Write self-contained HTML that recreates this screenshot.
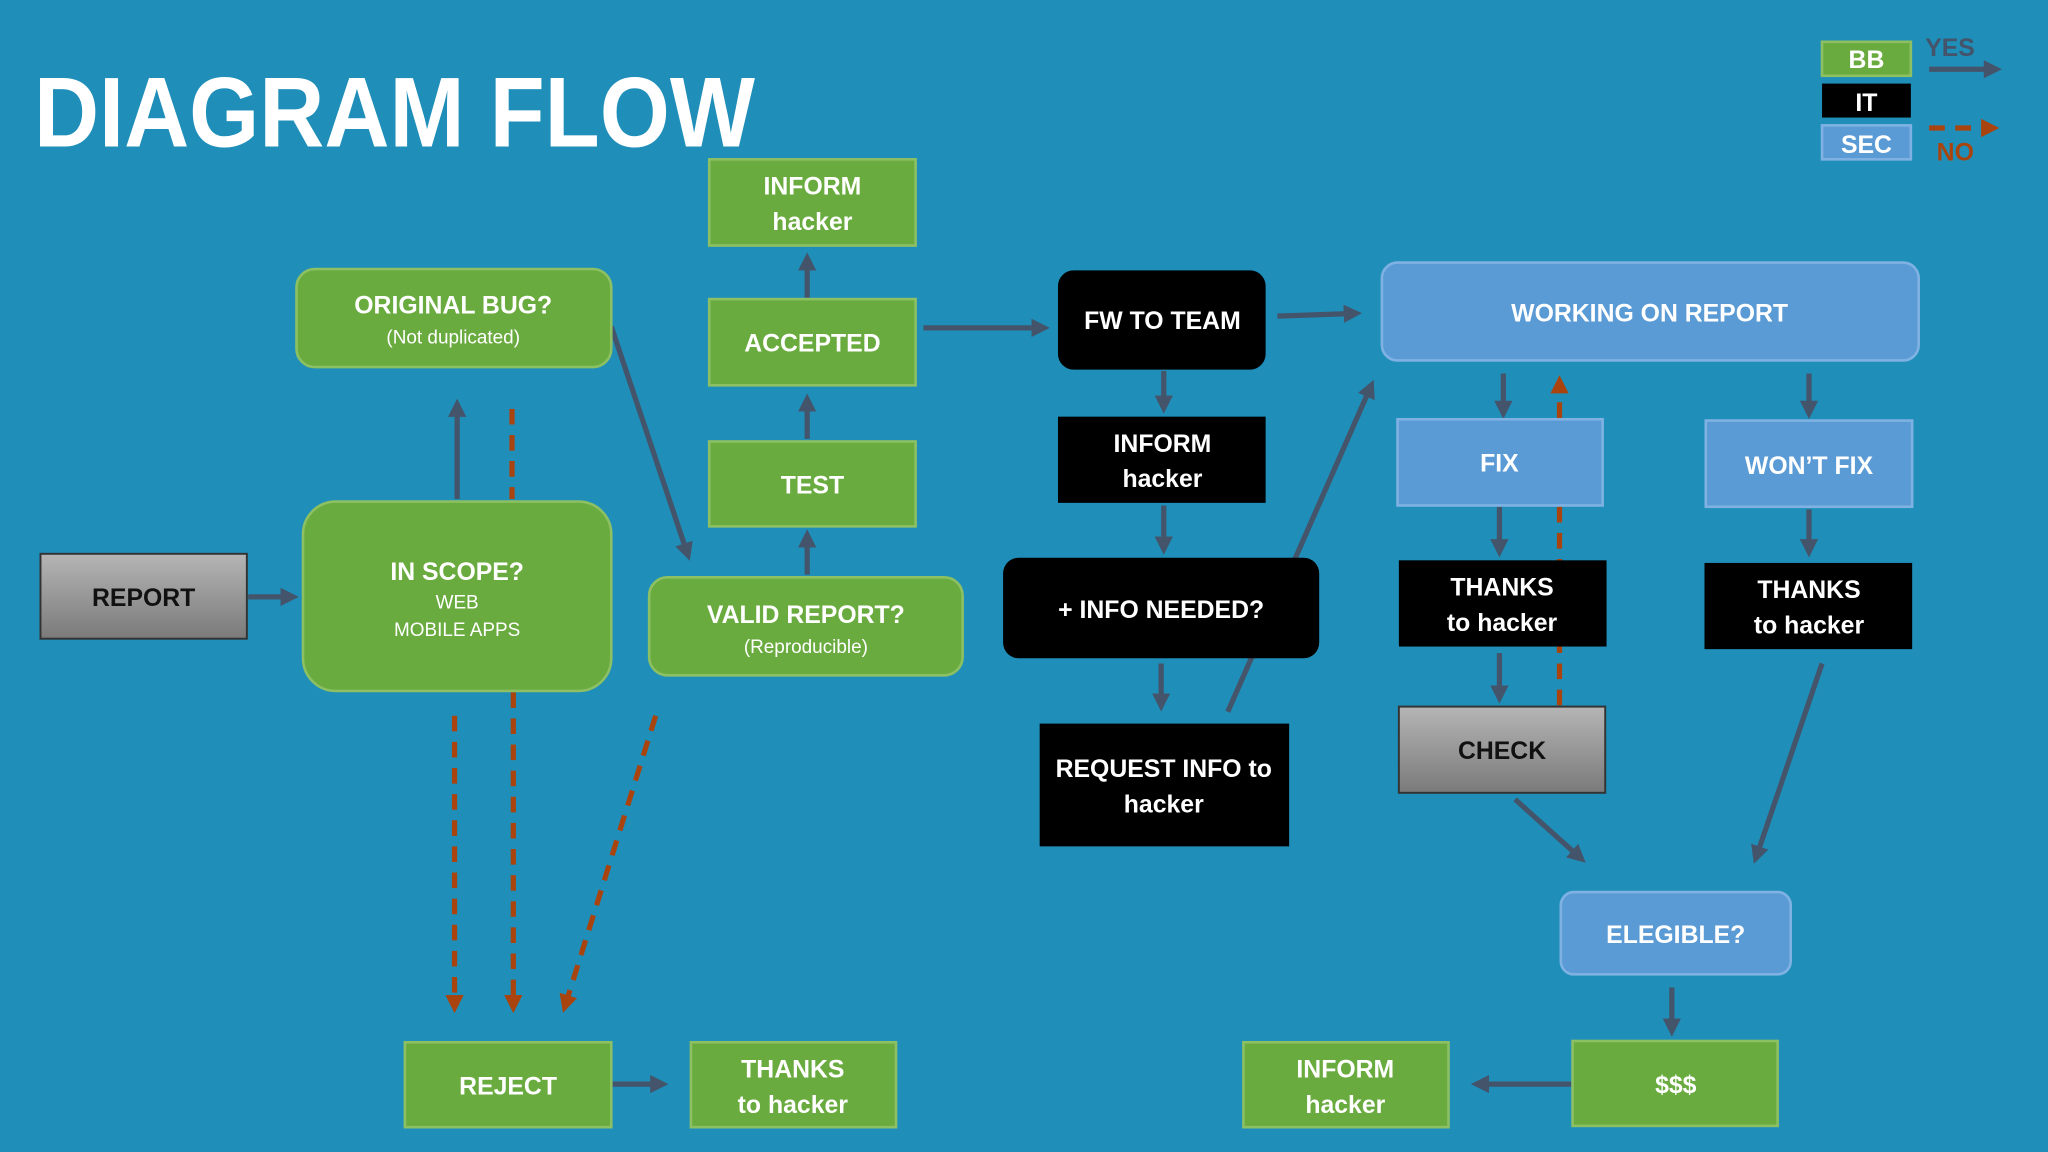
<!DOCTYPE html>
<html><head><meta charset="utf-8"><style>
html,body{margin:0;padding:0;background:#1f8fba;}
svg{display:block;}
text{font-family:"Liberation Sans",sans-serif;fill:#fff;text-anchor:middle;}
.b{font-weight:bold;font-size:19px;}
.s{font-size:14.5px;}
.g{fill:#6aab3f;stroke:#8cc063;stroke-width:2;}
.k{fill:#000;}
.u{fill:#5b9bd5;stroke:#7fb2e3;stroke-width:2;}
.y{stroke:#44546a;stroke-width:4;fill:none;}
.n{stroke:#a9440f;stroke-width:4;fill:none;stroke-dasharray:12 8;}
</style></head><body>
<svg width="2048" height="1152" viewBox="0 0 1568 882" xmlns="http://www.w3.org/2000/svg">
<defs>
<marker id="ay" markerWidth="3.5" markerHeight="3.5" refX="1.8" refY="1.75" orient="auto"><path d="M0,0 L3.5,1.75 L0,3.5z" fill="#44546a"/></marker>
<marker id="an" markerWidth="3.5" markerHeight="3.5" refX="1.8" refY="1.75" orient="auto"><path d="M0,0 L3.5,1.75 L0,3.5z" fill="#a9440f"/></marker>
<linearGradient id="gr" x1="0" y1="0" x2="0" y2="1"><stop offset="0" stop-color="#b5b5b5"/><stop offset="1" stop-color="#7a7a7a"/></linearGradient>
</defs>
<rect width="1568" height="882" fill="#1f8fba"/>
<text x="26" y="112" style="font-size:76px;font-weight:bold;text-anchor:start" textLength="552" lengthAdjust="spacingAndGlyphs">DIAGRAM FLOW</text>

<!-- legend -->
<rect x="1395" y="32" width="68" height="26" class="g"/><text x="1429" y="52" class="b">BB</text>
<rect x="1395" y="64" width="68" height="26" class="k"/><text x="1429" y="85" class="b">IT</text>
<rect x="1395" y="96" width="68" height="26" class="u"/><text x="1429" y="117" class="b">SEC</text>
<text x="1493" y="43" class="b" style="fill:#44546a">YES</text>
<line x1="1477" y1="53" x2="1526" y2="53" class="y" marker-end="url(#ay)"/>
<line x1="1477" y1="98" x2="1524" y2="98" class="n" marker-end="url(#an)"/>
<text x="1497" y="123" class="b" style="fill:#a9440f">NO</text>

<!-- arrows -->
<g class="y">
<line x1="190" y1="457" x2="222" y2="457" marker-end="url(#ay)"/>
<line x1="350" y1="382" x2="350" y2="312" marker-end="url(#ay)"/>
<line x1="468" y1="250" x2="526" y2="423" marker-end="url(#ay)"/>
<line x1="618" y1="440" x2="618" y2="412" marker-end="url(#ay)"/>
<line x1="618" y1="336" x2="618" y2="308" marker-end="url(#ay)"/>
<line x1="618" y1="228" x2="618" y2="200" marker-end="url(#ay)"/>
<line x1="707" y1="251" x2="797" y2="251" marker-end="url(#ay)"/>
<line x1="978" y1="242" x2="1036" y2="240" marker-end="url(#ay)"/>
<line x1="891" y1="284" x2="891" y2="310" marker-end="url(#ay)"/>
<line x1="891" y1="387" x2="891" y2="418" marker-end="url(#ay)"/>
<line x1="889" y1="508" x2="889" y2="538" marker-end="url(#ay)"/>
<line x1="940" y1="545" x2="1049" y2="297" marker-end="url(#ay)"/>
<line x1="1151" y1="286" x2="1151" y2="314" marker-end="url(#ay)"/>
<line x1="1148" y1="388" x2="1148" y2="420" marker-end="url(#ay)"/>
<line x1="1148" y1="500" x2="1148" y2="532" marker-end="url(#ay)"/>
<line x1="1160" y1="612" x2="1209" y2="656" marker-end="url(#ay)"/>
<line x1="1385" y1="286" x2="1385" y2="314" marker-end="url(#ay)"/>
<line x1="1385" y1="390" x2="1385" y2="420" marker-end="url(#ay)"/>
<line x1="1395" y1="508" x2="1345" y2="655" marker-end="url(#ay)"/>
<line x1="1280" y1="756" x2="1280" y2="787" marker-end="url(#ay)"/>
<line x1="1203" y1="830" x2="1133" y2="830" marker-end="url(#ay)"/>
<line x1="469" y1="830" x2="505" y2="830" marker-end="url(#ay)"/>
</g>
<g class="n">
<line x1="392" y1="313" x2="392" y2="382"/>
<line x1="1194" y1="540" x2="1194" y2="294" marker-end="url(#an)"/>
<line x1="348" y1="548" x2="348" y2="769" marker-end="url(#an)"/>
<line x1="393" y1="530" x2="393" y2="769" marker-end="url(#an)"/>
<line x1="502" y1="548" x2="433" y2="769" marker-end="url(#an)"/>
</g>

<!-- boxes -->
<rect x="31" y="424" width="158" height="65" fill="url(#gr)" stroke="#333" stroke-width="1.5"/><text x="110" y="464" class="b" style="fill:#111">REPORT</text>
<rect x="232" y="384" width="236" height="145" rx="25" class="g"/>
<text x="350" y="444" class="b">IN SCOPE?</text><text x="350" y="466" class="s">WEB</text><text x="350" y="487" class="s">MOBILE APPS</text>
<rect x="227" y="206" width="241" height="75" rx="14" class="g"/>
<text x="347" y="240" class="b">ORIGINAL BUG?</text><text x="347" y="263" class="s">(Not duplicated)</text>
<rect x="497" y="442" width="240" height="75" rx="14" class="g"/>
<text x="617" y="477" class="b">VALID REPORT?</text><text x="617" y="500" class="s">(Reproducible)</text>
<rect x="543" y="338" width="158" height="65" class="g"/><text x="622" y="378" class="b">TEST</text>
<rect x="543" y="229" width="158" height="66" class="g"/><text x="622" y="269" class="b">ACCEPTED</text>
<rect x="543" y="122" width="158" height="66" class="g"/><text x="622" y="149" class="b">INFORM</text><text x="622" y="176" class="b">hacker</text>

<rect x="810" y="207" width="159" height="76" rx="12" class="k"/><text x="890" y="252" class="b">FW TO TEAM</text>
<rect x="810" y="319" width="159" height="66" class="k"/><text x="890" y="346" class="b">INFORM</text><text x="890" y="373" class="b">hacker</text>
<rect x="768" y="427" width="242" height="77" rx="12" class="k"/><text x="889" y="473" class="b">+ INFO NEEDED?</text>
<rect x="796" y="554" width="191" height="94" class="k"/><text x="891" y="595" class="b">REQUEST INFO to</text><text x="891" y="622" class="b">hacker</text>

<rect x="1058" y="201" width="411" height="75" rx="12" class="u"/><text x="1263" y="246" class="b">WORKING ON REPORT</text>
<rect x="1070" y="321" width="157" height="66" class="u"/><text x="1148" y="361" class="b">FIX</text>
<rect x="1306" y="322" width="158" height="66" class="u"/><text x="1385" y="363" class="b">WON’T FIX</text>
<rect x="1071" y="429" width="159" height="66" class="k"/><text x="1150" y="456" class="b">THANKS</text><text x="1150" y="483" class="b">to hacker</text>
<rect x="1305" y="431" width="159" height="66" class="k"/><text x="1385" y="458" class="b">THANKS</text><text x="1385" y="485" class="b">to hacker</text>
<rect x="1071" y="541" width="158" height="66" fill="url(#gr)" stroke="#333" stroke-width="1.5"/><text x="1150" y="581" class="b" style="fill:#111">CHECK</text>
<rect x="1195" y="683" width="176" height="63" rx="10" class="u"/><text x="1283" y="722" class="b">ELEGIBLE?</text>
<rect x="1204" y="797" width="157" height="65" class="g"/><text x="1283" y="837" class="b">$$$</text>
<rect x="952" y="798" width="157" height="65" class="g"/><text x="1030" y="825" class="b">INFORM</text><text x="1030" y="852" class="b">hacker</text>
<rect x="310" y="798" width="158" height="65" class="g"/><text x="389" y="838" class="b">REJECT</text>
<rect x="529" y="798" width="157" height="65" class="g"/><text x="607" y="825" class="b">THANKS</text><text x="607" y="852" class="b">to hacker</text>
</svg>
</body></html>
